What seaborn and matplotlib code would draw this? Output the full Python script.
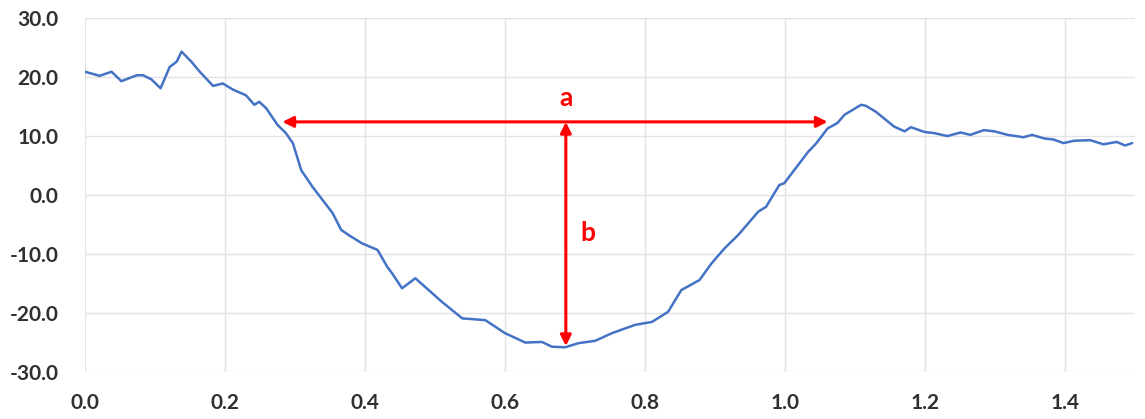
import numpy as np
import pandas as pd
import seaborn as sns
from matplotlib import pyplot as plt
from matplotlib.ticker import FormatStrFormatter

# curve
time_s = [0.000, 0.021, 0.038, 0.052, 0.074, 0.083, 0.095, 0.108, 0.121, 0.131,
          0.138, 0.152, 0.164, 0.183, 0.197, 0.211, 0.230, 0.242, 0.249, 0.259,
          0.275, 0.287, 0.297, 0.309, 0.325, 0.347, 0.354, 0.366, 0.377, 0.396,
          0.418, 0.432, 0.439, 0.453, 0.472, 0.491, 0.510, 0.539, 0.572, 0.600,
          0.629, 0.653, 0.667, 0.686, 0.705, 0.729, 0.753, 0.786, 0.810, 0.833,
          0.852, 0.878, 0.895, 0.914, 0.933, 0.962, 0.973, 0.992, 0.999, 1.033,
          1.045, 1.061, 1.075, 1.085, 1.109, 1.116, 1.130, 1.156, 1.171, 1.180,
          1.199, 1.213, 1.232, 1.251, 1.265, 1.284, 1.299, 1.318, 1.341, 1.353,
          1.370, 1.384, 1.398, 1.413, 1.436, 1.455, 1.474, 1.486, 1.496]
signal = [20.9, 20.2, 20.9, 19.3, 20.3, 20.3, 19.6, 18.1, 21.7, 22.6,
          24.3, 22.6, 20.9, 18.5, 18.9, 17.9, 16.9, 15.3, 15.8, 14.7,
          11.9, 10.5, 8.8, 4.2, 1.4, -2.0, -3.1, -5.9, -6.8, -8.2,
          -9.3, -12.2, -13.3, -15.8, -14.1, -16.1, -18.1, -20.9, -21.2, -23.4,
          -25.0, -24.9, -25.7, -25.8, -25.1, -24.7, -23.4, -22.0, -21.5, -19.8,
          -16.1, -14.4, -11.6, -9.0, -6.8, -2.8, -2.0, 1.7, 2.0, 7.3,
          8.8, 11.3, 12.2, 13.6, 15.3, 15.1, 14.1, 11.6, 10.8, 11.5,
          10.7, 10.5, 10.0, 10.6, 10.2, 11.0, 10.8, 10.2, 9.8, 10.2,
          9.6, 9.4, 8.8, 9.2, 9.3, 8.6, 9.0, 8.4, 8.8]

# annotation arrows
a_level = 12.4
a_span = [0.282, 1.061]
b_x = 0.687
b_span = [12.4, -25.6]

df = pd.DataFrame({'t': time_s, 'v': signal})

sns.set_style('whitegrid')
plt.rcParams['font.family'] = ['Lato', 'DejaVu Sans']
fig = plt.figure(figsize=(11.45, 4.19), dpi=100)
ax = fig.add_axes([0.0742, 0.112, 0.917, 0.845])

sns.lineplot(data=df, x='t', y='v', ax=ax, color='#4472C4', linewidth=1.8)

ax.set_xlim(0, 1.5)
ax.set_ylim(-30, 30)
ax.set_xticks(np.arange(0, 1.41, 0.2))
ax.set_yticks(np.arange(-30, 31, 10))
ax.xaxis.set_major_formatter(FormatStrFormatter('%.1f'))
ax.yaxis.set_major_formatter(FormatStrFormatter('%.1f'))
ax.set_xlabel('')
ax.set_ylabel('')
ax.grid(True, color='#e3e3e3', linewidth=1.0)
for s in ax.spines.values():
    s.set_visible(False)
ax.tick_params(axis='both', length=0, labelsize=15, labelcolor='#303030')
ax.tick_params(axis='x', pad=15)
ax.tick_params(axis='y', pad=19)
for lab in ax.get_xticklabels() + ax.get_yticklabels():
    lab.set_fontweight('bold')

red = '#FF0000'
ax.annotate('', xy=(a_span[0], a_level), xytext=(a_span[1], a_level),
            arrowprops=dict(arrowstyle='<|-|>', color=red, lw=2.2,
                            mutation_scale=16, shrinkA=0, shrinkB=0))
ax.annotate('', xy=(b_x, b_span[0]), xytext=(b_x, b_span[1]),
            arrowprops=dict(arrowstyle='<|-|>', color=red, lw=2.2,
                            mutation_scale=16, shrinkA=0, shrinkB=0))
ax.text(b_x, a_level + 2.0, 'a', color=red, fontsize=19, fontweight='bold',
        ha='center', va='bottom')
ax.text(b_x + 0.032, -6.4, 'b', color=red, fontsize=19, fontweight='bold',
        ha='center', va='center')

plt.savefig('out.png', dpi=100)
